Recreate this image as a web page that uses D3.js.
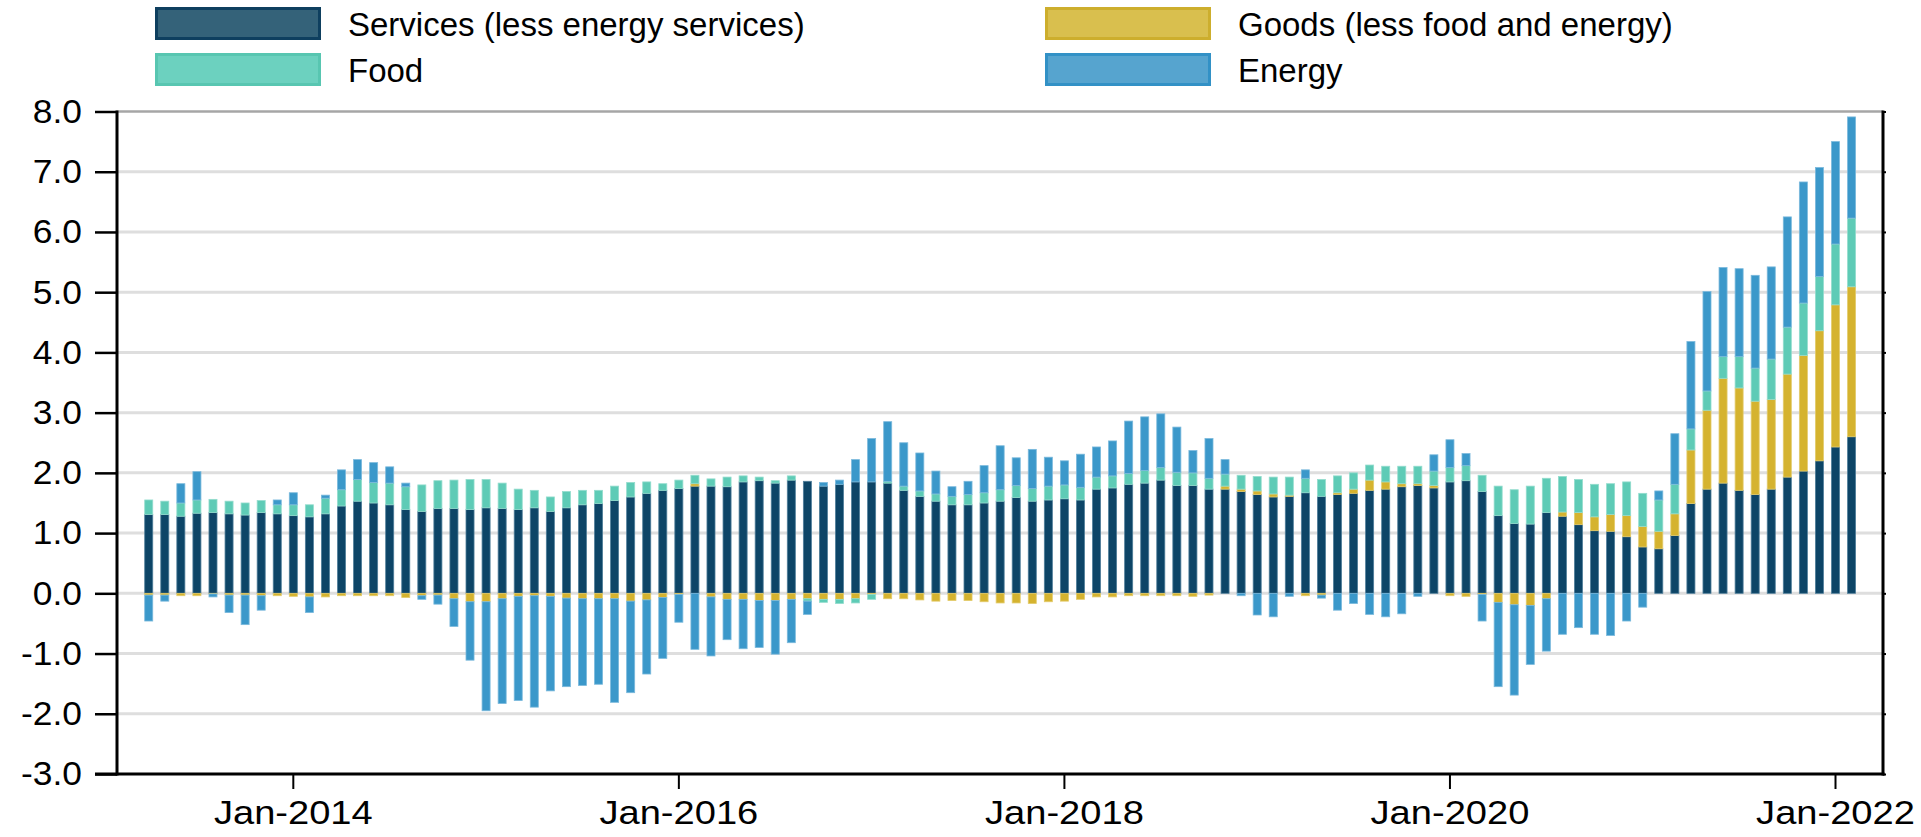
<!DOCTYPE html>
<html>
<head>
<meta charset="utf-8">
<script src="https://cdn.jsdelivr.net/npm/d3@7"></script>
<style>
  body { margin: 0; background: #fff; }
  svg { display: block; font-family: "Liberation Sans", Arial, sans-serif; }
</style>
</head>
<body>
<svg id="chart" width="1921" height="837"></svg>
<script>
// monthly contributions, Apr-2013 .. Feb-2022
var firstMonth = new Date(2013, 3, 1),
    lastMonth = new Date(2022, 1, 1);

var seriesKeys = ["services", "goods", "food", "energy"];
var seriesNames = ["Services (less energy services)", "Goods (less food and energy)", "Food", "Energy"];

var services = [1.31,1.31,1.28,1.33,1.34,1.32,1.30,1.34,1.32,1.29,1.27,1.32,1.45,1.53,1.50,1.47,1.39,1.36,1.41,1.41,
  1.39,1.42,1.41,1.39,1.42,1.36,1.42,1.47,1.49,1.54,1.60,1.66,1.71,1.74,1.78,1.78,1.77,1.85,1.87,1.83,
  1.88,1.86,1.78,1.81,1.85,1.85,1.83,1.71,1.61,1.53,1.47,1.47,1.50,1.53,1.59,1.53,1.55,1.57,1.55,1.73,
  1.75,1.81,1.83,1.88,1.79,1.79,1.73,1.73,1.69,1.64,1.60,1.61,1.67,1.61,1.64,1.66,1.71,1.73,1.77,1.79,
  1.75,1.85,1.87,1.69,1.29,1.16,1.15,1.34,1.28,1.14,1.04,1.03,0.94,0.77,0.74,0.96,1.49,1.73,1.83,1.71,
  1.64,1.73,1.93,2.03,2.20,2.43,2.60];

var goods = [-0.03,-0.03,-0.04,-0.04,-0.01,-0.03,-0.03,-0.04,-0.04,-0.05,-0.06,-0.06,-0.04,-0.04,-0.04,-0.04,-0.07,-0.04,-0.03,-0.09,
  -0.14,-0.14,-0.09,-0.05,-0.04,-0.05,-0.08,-0.09,-0.09,-0.09,-0.13,-0.11,-0.07,-0.02,0.04,-0.06,-0.10,-0.10,-0.12,-0.12,
  -0.10,-0.09,-0.10,-0.10,-0.09,-0.02,-0.09,-0.09,-0.11,-0.13,-0.12,-0.12,-0.14,-0.16,-0.16,-0.17,-0.14,-0.13,-0.10,-0.06,
  -0.06,-0.04,-0.04,-0.04,-0.04,-0.05,-0.03,0.05,0.04,0.06,0.05,0.02,-0.04,-0.03,0.03,0.07,0.17,0.12,0.05,0.03,
  0.04,-0.04,-0.05,-0.02,-0.15,-0.19,-0.20,-0.09,0.07,0.20,0.23,0.28,0.35,0.34,0.29,0.36,0.89,1.31,1.74,1.70,
  1.55,1.49,1.71,1.92,2.16,2.36,2.49];

var food = [0.24,0.22,0.22,0.22,0.22,0.21,0.20,0.20,0.15,0.18,0.20,0.26,0.27,0.36,0.34,0.36,0.38,0.44,0.46,0.47,
  0.50,0.47,0.42,0.34,0.29,0.24,0.27,0.24,0.22,0.24,0.24,0.19,0.11,0.14,0.14,0.12,0.16,0.10,0.06,0.04,
  0.07,-0.04,-0.05,-0.07,-0.07,-0.08,0.03,0.07,0.09,0.12,0.14,0.17,0.17,0.19,0.20,0.21,0.23,0.23,0.21,0.20,
  0.20,0.18,0.21,0.21,0.22,0.21,0.18,0.20,0.23,0.24,0.28,0.30,0.24,0.28,0.28,0.27,0.25,0.26,0.29,0.29,
  0.24,0.24,0.25,0.27,0.49,0.56,0.63,0.57,0.59,0.55,0.54,0.51,0.56,0.55,0.52,0.49,0.35,0.32,0.36,0.52,
  0.55,0.67,0.78,0.87,0.90,1.01,1.14];

var energy = [-0.43,-0.10,0.32,0.47,-0.05,-0.29,-0.49,-0.24,0.08,0.20,-0.26,0.05,0.33,0.33,0.33,0.27,0.06,-0.06,-0.15,-0.46,
  -0.97,-1.81,-1.74,-1.73,-1.85,-1.57,-1.47,-1.44,-1.42,-1.72,-1.52,-1.23,-1.01,-0.46,-0.93,-0.98,-0.67,-0.82,-0.78,-0.89,
  -0.72,-0.22,0.06,0.07,0.37,0.72,0.99,0.72,0.63,0.38,0.16,0.22,0.45,0.73,0.46,0.65,0.48,0.40,0.55,0.50,
  0.58,0.87,0.89,0.89,0.75,0.37,0.66,0.24,-0.04,-0.36,-0.39,-0.05,0.14,-0.05,-0.28,-0.17,-0.35,-0.39,-0.34,-0.05,
  0.27,0.46,0.20,-0.44,-1.40,-1.50,-0.98,-0.87,-0.68,-0.57,-0.68,-0.70,-0.46,-0.23,0.15,0.84,1.45,1.65,1.48,1.46,
  1.54,1.53,1.83,2.01,1.81,1.70,1.68];

var yTicks = [-3, -2, -1, 0, 1, 2, 3, 4, 5, 6, 7, 8];
var tickLabels = ["Jan-2014", "Jan-2016", "Jan-2018", "Jan-2020", "Jan-2022"];

var fillColors = { services: "#0d4567", goods: "#d5b32f", food: "#5ecbb6", energy: "#3b98ca" };
var edgeColors = { services: "#4f7e9a", goods: "#e3cb6c", food: "#93dccd", energy: "#7ab9dc" };
var swatchFill = { services: "#346279", goods: "#d9bf4e", food: "#6cd1bf", energy: "#56a4cf" };
var swatchEdge = { services: "#0e3f5f", goods: "#cdae2d", food: "#58c6b1", energy: "#3291c6" };

var fmtMonth = d3.timeFormat("%b-%Y");
var months = d3.timeMonth.range(firstMonth, d3.timeMonth.offset(lastMonth, 1)).map(fmtMonth);

var table = months.map(function(m, i) {
  return { month: m, services: services[i], goods: goods[i], food: food[i], energy: energy[i] };
});

var svg = d3.select("#chart");

var plotLeft = 117, plotRight = 1883, plotTop = 111.5, plotBottom = 774;

var x = d3.scaleBand()
    .domain(months)
    .range([140.7, 1859.6])
    .paddingInner(0.5)
    .paddingOuter(0.25);

var y = d3.scaleLinear().domain([-3, 8]).range([plotBottom, plotTop]);

// gridlines
svg.append("g").selectAll("line")
    .data(yTicks.filter(function(d) { return d > -3; }))
    .enter().append("line")
    .attr("x1", plotLeft).attr("x2", plotRight)
    .attr("y1", function(d) { return y(d); })
    .attr("y2", function(d) { return y(d); })
    .attr("stroke", function(d) { return d === 8 ? "#a6a6a6" : "#dedede"; })
    .attr("stroke-width", function(d) { return d === 8 ? 2.5 : 3; });

// stacked bars
var stack = d3.stack().keys(seriesKeys).offset(d3.stackOffsetDiverging);
var layers = stack(table);

svg.append("g").selectAll("g")
    .data(layers)
    .enter().append("g")
    .attr("fill", function(d) { return fillColors[d.key]; })
    .attr("stroke", function(d) { return edgeColors[d.key]; })
    .attr("stroke-width", 0.8)
    .selectAll("rect")
    .data(function(d) { return d; })
    .enter().append("rect")
    .attr("x", function(d) { return x(d.data.month); })
    .attr("width", x.bandwidth())
    .attr("y", function(d) { return y(Math.max(d[0], d[1])); })
    .attr("height", function(d) { return Math.abs(y(d[0]) - y(d[1])); });

// widen axis text a little, the source font runs wide
function stretch(sel, k) {
  sel.each(function() {
    var w = this.getComputedTextLength();
    d3.select(this).attr("textLength", w * k).attr("lengthAdjust", "spacingAndGlyphs");
  });
}

// y axis (left)
var yAxis = svg.append("g")
    .attr("transform", "translate(" + plotLeft + ",0)")
    .call(d3.axisLeft(y).tickValues(yTicks)
      .tickFormat(function(d) { return d.toFixed(1); })
      .tickSize(22).tickSizeOuter(0).tickPadding(13));
yAxis.select(".domain").remove();
yAxis.selectAll(".tick line").attr("stroke", "#000").attr("stroke-width", 2.5);
yAxis.selectAll(".tick text")
    .attr("fill", "#000")
    .style("font-size", "34px")
    .call(stretch, 1.04);

// right side ticks
var rAxis = svg.append("g")
    .attr("transform", "translate(" + plotRight + ",0)")
    .call(d3.axisRight(y).tickValues(yTicks).tickSize(3).tickSizeOuter(0).tickFormat(""));
rAxis.select(".domain").remove();
rAxis.selectAll(".tick line").attr("stroke", "#000").attr("stroke-width", 2);

// x axis
var xAxis = svg.append("g")
    .attr("transform", "translate(0," + plotBottom + ")")
    .call(d3.axisBottom(x).tickValues(tickLabels).tickSize(15).tickSizeOuter(0).tickPadding(11));
xAxis.select(".domain").remove();
xAxis.selectAll(".tick line").attr("stroke", "#000").attr("stroke-width", 2);
xAxis.selectAll(".tick text")
    .attr("fill", "#000")
    .style("font-size", "34px")
    .call(stretch, 1.12);

// frame lines
svg.append("line")
    .attr("x1", plotLeft).attr("x2", plotLeft)
    .attr("y1", plotTop - 1).attr("y2", plotBottom + 1.5)
    .attr("stroke", "#000").attr("stroke-width", 3);
svg.append("line")
    .attr("x1", plotRight).attr("x2", plotRight)
    .attr("y1", plotTop - 1).attr("y2", plotBottom + 1.5)
    .attr("stroke", "#000").attr("stroke-width", 3);
svg.append("line")
    .attr("x1", plotLeft - 22).attr("x2", plotRight + 1.5)
    .attr("y1", plotBottom).attr("y2", plotBottom)
    .attr("stroke", "#000").attr("stroke-width", 3);

// legend, two columns
var legendPos = [
  { key: "services", x: 155, y: 7 },
  { key: "goods", x: 1045, y: 7 },
  { key: "food", x: 155, y: 53 },
  { key: "energy", x: 1045, y: 53 }
];

var legend = svg.append("g").selectAll("g")
    .data(legendPos)
    .enter().append("g")
    .attr("transform", function(d) { return "translate(" + d.x + "," + d.y + ")"; });

legend.append("rect")
    .attr("x", 1.5).attr("y", 1.5)
    .attr("width", 163).attr("height", 30)
    .attr("fill", function(d) { return swatchFill[d.key]; })
    .attr("stroke", function(d) { return swatchEdge[d.key]; })
    .attr("stroke-width", 3);

legend.append("text")
    .attr("x", 193)
    .attr("y", 29)
    .style("font-size", "33px")
    .attr("fill", "#000")
    .text(function(d) { return seriesNames[seriesKeys.indexOf(d.key)]; });
</script>
</body>
</html>
